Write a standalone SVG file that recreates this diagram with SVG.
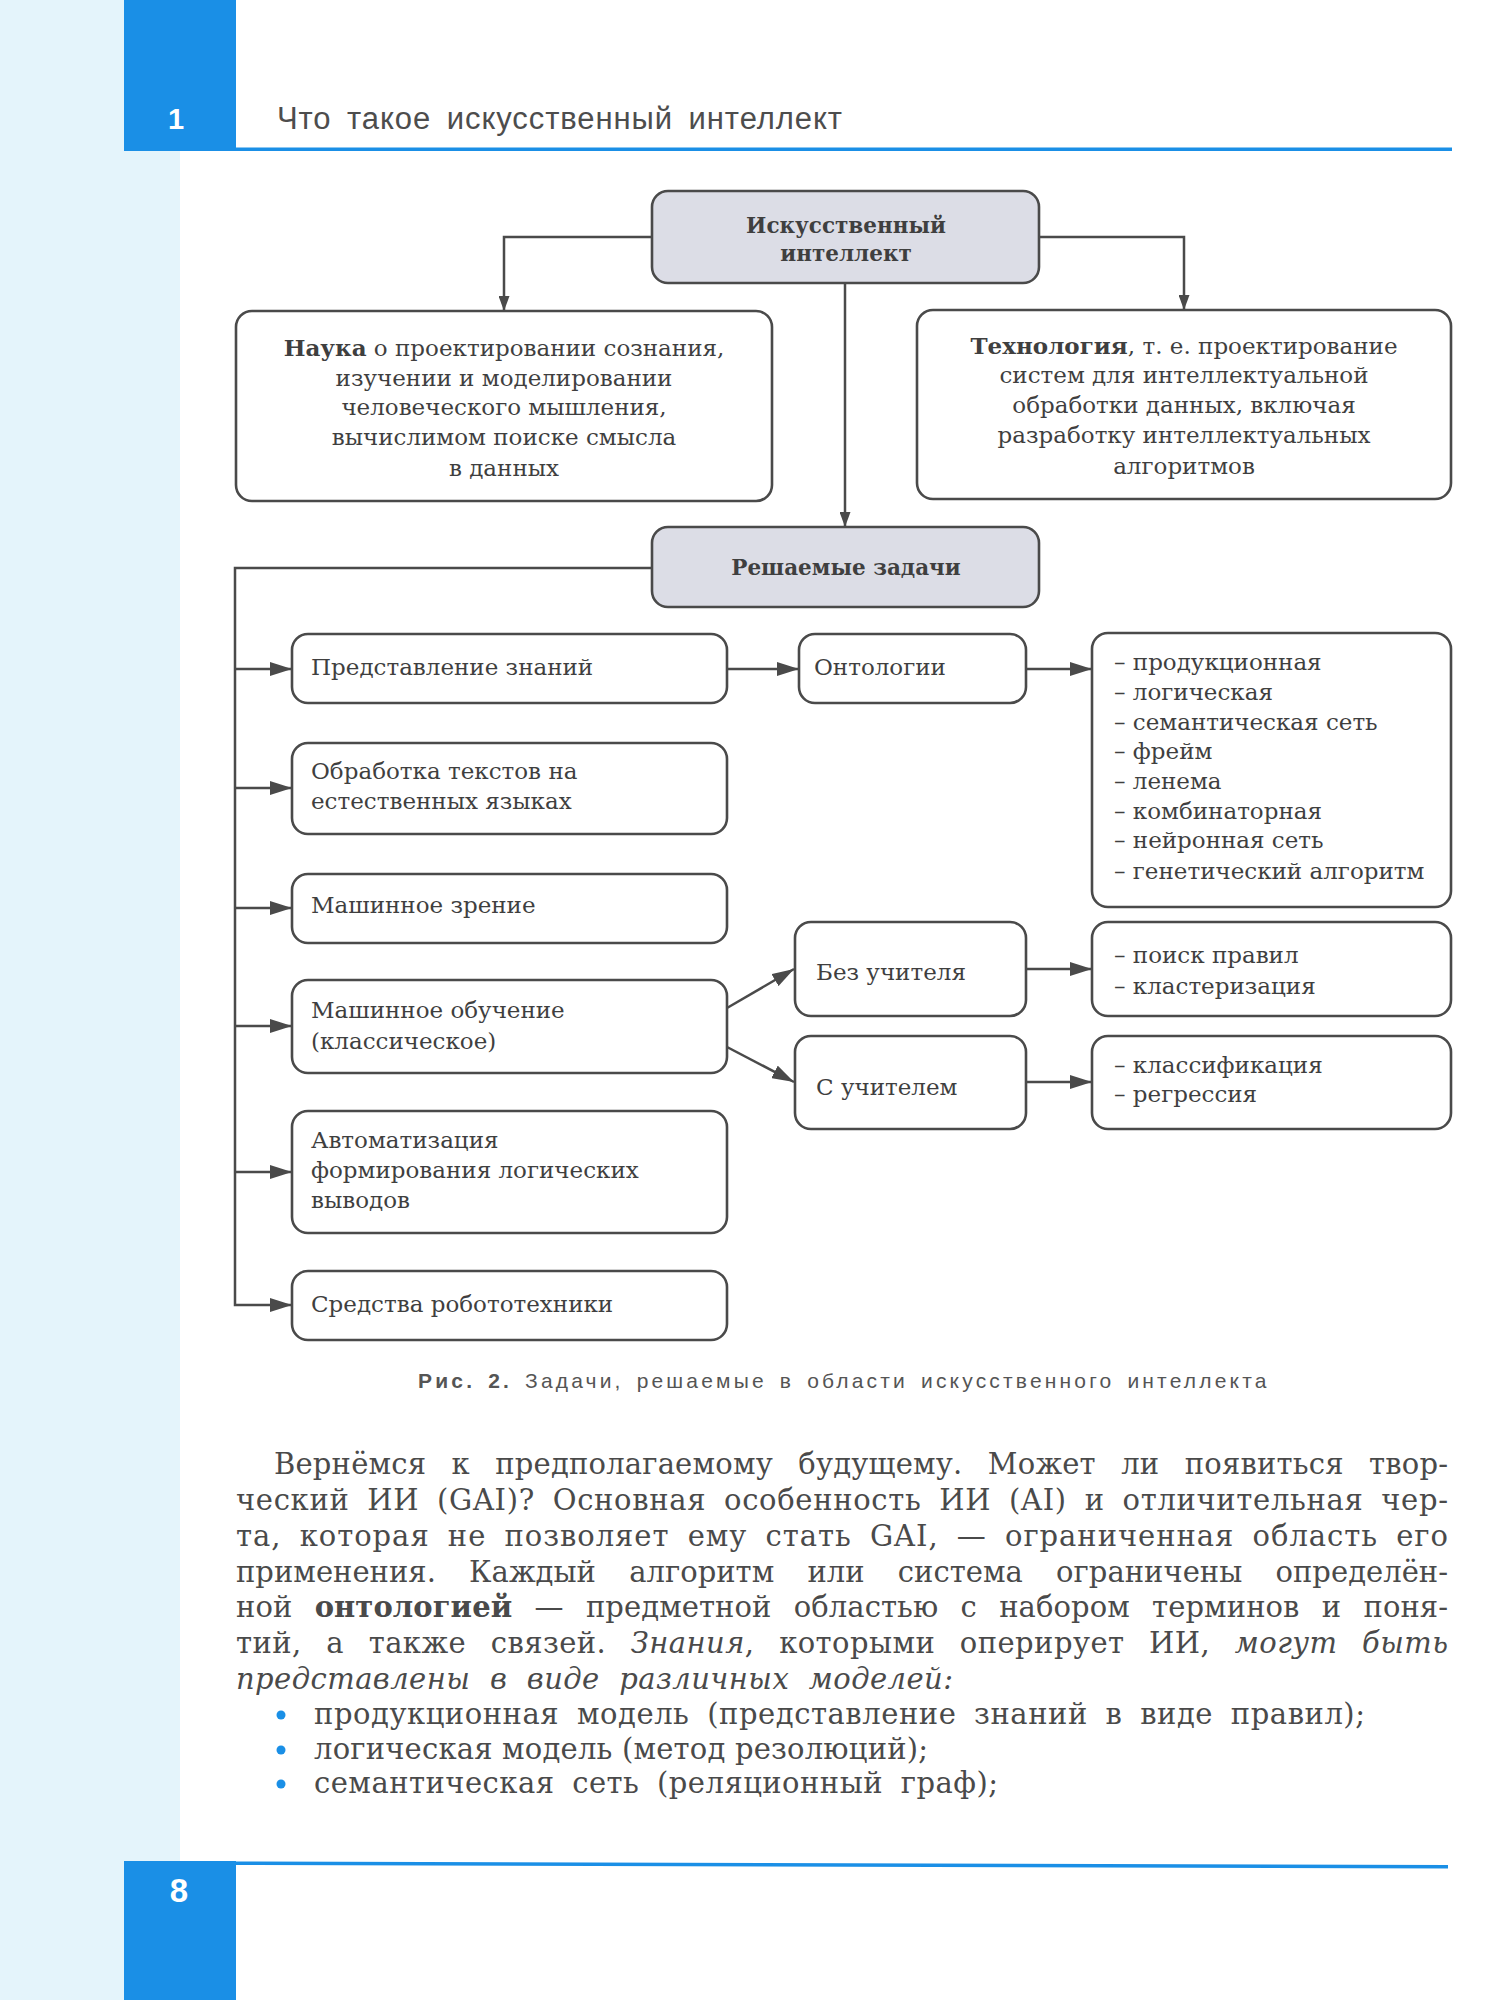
<svg xmlns="http://www.w3.org/2000/svg" width="1488" height="2000" viewBox="0 0 1488 2000">
<defs>
<style>
.box{fill:#ffffff;stroke:#4a4a4a;stroke-width:2.6}
.gbox{fill:#dcdde6;stroke:#4a4a4a;stroke-width:2.6}
.conn{fill:none;stroke:#4a4a4a;stroke-width:2.5}
.t{font-family:"DejaVu Serif","Liberation Serif",serif;font-size:23px;fill:#3f3f3f}
.b{font-weight:bold}
.h{font-size:21.5px}
.c{text-anchor:middle}
.body{font-family:"DejaVu Serif","Liberation Serif",serif;font-size:29px;fill:#4a4a4a}
.sans{font-family:"Liberation Sans",Arial,sans-serif}
</style>
<marker id="arr" viewBox="0 0 22 14" refX="22" refY="7" markerWidth="22" markerHeight="14" markerUnits="userSpaceOnUse" orient="auto">
<path d="M0,0 L22,7 L0,14 z" fill="#4a4a4a"/>
</marker>
<marker id="arrS" viewBox="0 0 15 11" refX="15" refY="5.5" markerWidth="15" markerHeight="11" markerUnits="userSpaceOnUse" orient="auto">
<path d="M0,0 L15,5.5 L0,11 z" fill="#4a4a4a"/>
</marker>
</defs>
<rect x="0" y="0" width="1488" height="2000" fill="#ffffff"/>
<g id="page">
<rect x="0" y="0" width="180" height="2000" fill="#e4f4fb"/>
<rect x="124" y="0" width="112" height="151" fill="#1a8fe6"/>
<rect x="236" y="147.5" width="1216" height="3.5" fill="#1a8fe6"/>
<text x="176" y="129" class="sans" font-size="29" font-weight="bold" fill="#ffffff" text-anchor="middle">1</text>
<text x="277" y="129" class="sans" font-size="31" fill="#4d4d4d" word-spacing="6" textLength="565" lengthAdjust="spacing">Что такое искусственный интеллект</text>
<rect x="124" y="1861" width="112" height="139" fill="#1a8fe6"/>
<path d="M236,1861.5 L1448,1865 L1448,1868.5 L236,1865 z" fill="#1a8fe6"/>
<text x="179" y="1902" class="sans" font-size="33" font-weight="bold" fill="#ffffff" text-anchor="middle">8</text>
</g>
<g id="connectors">
<path class="conn" d="M652,237 H504 V311" marker-end="url(#arrS)"/>
<path class="conn" d="M1039,237 H1184 V310" marker-end="url(#arrS)"/>
<path class="conn" d="M845,283 V527" marker-end="url(#arrS)"/>
<path class="conn" d="M652,568 H235 V1305 H292" marker-end="url(#arr)"/>
<path class="conn" d="M235,669 H292" marker-end="url(#arr)"/>
<path class="conn" d="M235,788 H292" marker-end="url(#arr)"/>
<path class="conn" d="M235,908 H292" marker-end="url(#arr)"/>
<path class="conn" d="M235,1026 H292" marker-end="url(#arr)"/>
<path class="conn" d="M235,1172 H292" marker-end="url(#arr)"/>
<path class="conn" d="M727,669 H799" marker-end="url(#arr)"/>
<path class="conn" d="M1026,669 H1092" marker-end="url(#arr)"/>
<path class="conn" d="M727,1008 L794,969" marker-end="url(#arr)"/>
<path class="conn" d="M727,1047 L794,1082" marker-end="url(#arr)"/>
<path class="conn" d="M1026,969 H1092" marker-end="url(#arr)"/>
<path class="conn" d="M1026,1082 H1092" marker-end="url(#arr)"/>
</g>
<g id="n_ai">
<rect class="gbox" x="652" y="191" width="387" height="92" rx="16"/>
<text class="t b h c" x="846" y="233">Искусственный</text>
<text class="t b h c" x="846" y="261">интеллект</text>
</g>
<g id="n_science">
<rect class="box" x="236" y="311" width="536" height="190" rx="16"/>
<text class="t c" x="504" y="356"><tspan class="b">Наука</tspan> о проектировании сознания,</text>
<text class="t c" x="504" y="386">изучении и моделировании</text>
<text class="t c" x="504" y="415">человеческого мышления,</text>
<text class="t c" x="504" y="445">вычислимом поиске смысла</text>
<text class="t c" x="504" y="476">в данных</text>
</g>
<g id="n_tech">
<rect class="box" x="917" y="310" width="534" height="189" rx="16"/>
<text class="t c" x="1184" y="354"><tspan class="b">Технология</tspan>, т. е. проектирование</text>
<text class="t c" x="1184" y="383">систем для интеллектуальной</text>
<text class="t c" x="1184" y="413">обработки данных, включая</text>
<text class="t c" x="1184" y="443">разработку интеллектуальных</text>
<text class="t c" x="1184" y="474">алгоритмов</text>
</g>
<g id="n_tasks">
<rect class="gbox" x="652" y="527" width="387" height="80" rx="16"/>
<text class="t b h c" x="846" y="575">Решаемые задачи</text>
</g>
<g id="n_kr">
<rect class="box" x="292" y="634" width="435" height="69" rx="16"/>
<text class="t" x="311" y="675">Представление знаний</text>
</g>
<g id="n_ont">
<rect class="box" x="799" y="634" width="227" height="69" rx="16"/>
<text class="t" x="814" y="675">Онтологии</text>
</g>
<g id="n_ontlist">
<rect class="box" x="1092" y="633" width="359" height="274" rx="16"/>
<text class="t" x="1114" y="670">– продукционная</text>
<text class="t" x="1114" y="700">– логическая</text>
<text class="t" x="1114" y="730">– семантическая сеть</text>
<text class="t" x="1114" y="759">– фрейм</text>
<text class="t" x="1114" y="789">– ленема</text>
<text class="t" x="1114" y="819">– комбинаторная</text>
<text class="t" x="1114" y="848">– нейронная сеть</text>
<text class="t" x="1114" y="879">– генетический алгоритм</text>
</g>
<g id="n_nlp">
<rect class="box" x="292" y="743" width="435" height="91" rx="16"/>
<text class="t" x="311" y="779">Обработка текстов на</text>
<text class="t" x="311" y="809">естественных языках</text>
</g>
<g id="n_cv">
<rect class="box" x="292" y="874" width="435" height="69" rx="16"/>
<text class="t" x="311" y="913">Машинное зрение</text>
</g>
<g id="n_unsup">
<rect class="box" x="795" y="922" width="231" height="94" rx="16"/>
<text class="t" x="816" y="980">Без учителя</text>
</g>
<g id="n_unsuplist">
<rect class="box" x="1092" y="922" width="359" height="94" rx="16"/>
<text class="t" x="1114" y="963">– поиск правил</text>
<text class="t" x="1114" y="994">– кластеризация</text>
</g>
<g id="n_ml">
<rect class="box" x="292" y="980" width="435" height="93" rx="16"/>
<text class="t" x="311" y="1018">Машинное обучение</text>
<text class="t" x="311" y="1049">(классическое)</text>
</g>
<g id="n_sup">
<rect class="box" x="795" y="1036" width="231" height="93" rx="16"/>
<text class="t" x="816" y="1095">С учителем</text>
</g>
<g id="n_suplist">
<rect class="box" x="1092" y="1036" width="359" height="93" rx="16"/>
<text class="t" x="1114" y="1073">– классификация</text>
<text class="t" x="1114" y="1102">– регрессия</text>
</g>
<g id="n_auto">
<rect class="box" x="292" y="1111" width="435" height="122" rx="16"/>
<text class="t" x="311" y="1148">Автоматизация</text>
<text class="t" x="311" y="1178">формирования логических</text>
<text class="t" x="311" y="1208">выводов</text>
</g>
<g id="n_robo">
<rect class="box" x="292" y="1271" width="435" height="69" rx="16"/>
<text class="t" x="311" y="1312">Средства робототехники</text>
</g>
<g id="caption">
<text class="sans" x="418" y="1388" font-size="21" fill="#555555" letter-spacing="0.6" word-spacing="4" textLength="849" lengthAdjust="spacing"><tspan font-weight="bold">Рис. 2.</tspan> Задачи, решаемые в области искусственного интеллекта</text>
</g>
<g id="bodytext">
<text class="body" x="274" y="1474" word-spacing="16" textLength="1174" lengthAdjust="spacing">Вернёмся к предполагаемому будущему. Может ли появиться твор-</text>
<text class="body" x="236" y="1510" word-spacing="8" textLength="1212" lengthAdjust="spacing">ческий ИИ (GAI)? Основная особенность ИИ (AI) и отличительная чер-</text>
<text class="body" x="236" y="1546" word-spacing="8" textLength="1212" lengthAdjust="spacing">та, которая не позволяет ему стать GAI, — ограниченная область его</text>
<text class="body" x="236" y="1582" word-spacing="24" textLength="1212" lengthAdjust="spacing">применения. Каждый алгоритм или система ограничены определён-</text>
<text class="body" x="236" y="1617" word-spacing="13" textLength="1212" lengthAdjust="spacing">ной <tspan font-weight="bold">онтологией</tspan> — предметной областью с набором терминов и поня-</text>
<text class="body" x="236" y="1653" word-spacing="15" textLength="1212" lengthAdjust="spacing">тий, а также связей. <tspan font-style="italic">Знания</tspan>, которыми оперирует ИИ, <tspan font-style="italic">могут быть</tspan></text>
<text class="body" x="236" y="1689" font-style="italic" word-spacing="10" textLength="717" lengthAdjust="spacing">представлены в виде различных моделей:</text>
<circle cx="281" cy="1715" r="4.5" fill="#1a8fe6"/>
<text class="body" x="314" y="1724" word-spacing="8" textLength="1051" lengthAdjust="spacing">продукционная модель (представление знаний в виде правил);</text>
<circle cx="281" cy="1750" r="4.5" fill="#1a8fe6"/>
<text class="body" x="314" y="1759" word-spacing="0" textLength="614" lengthAdjust="spacing">логическая модель (метод резолюций);</text>
<circle cx="281" cy="1784" r="4.5" fill="#1a8fe6"/>
<text class="body" x="314" y="1793" word-spacing="8" textLength="684" lengthAdjust="spacing">семантическая сеть (реляционный граф);</text>
</g>
</svg>
